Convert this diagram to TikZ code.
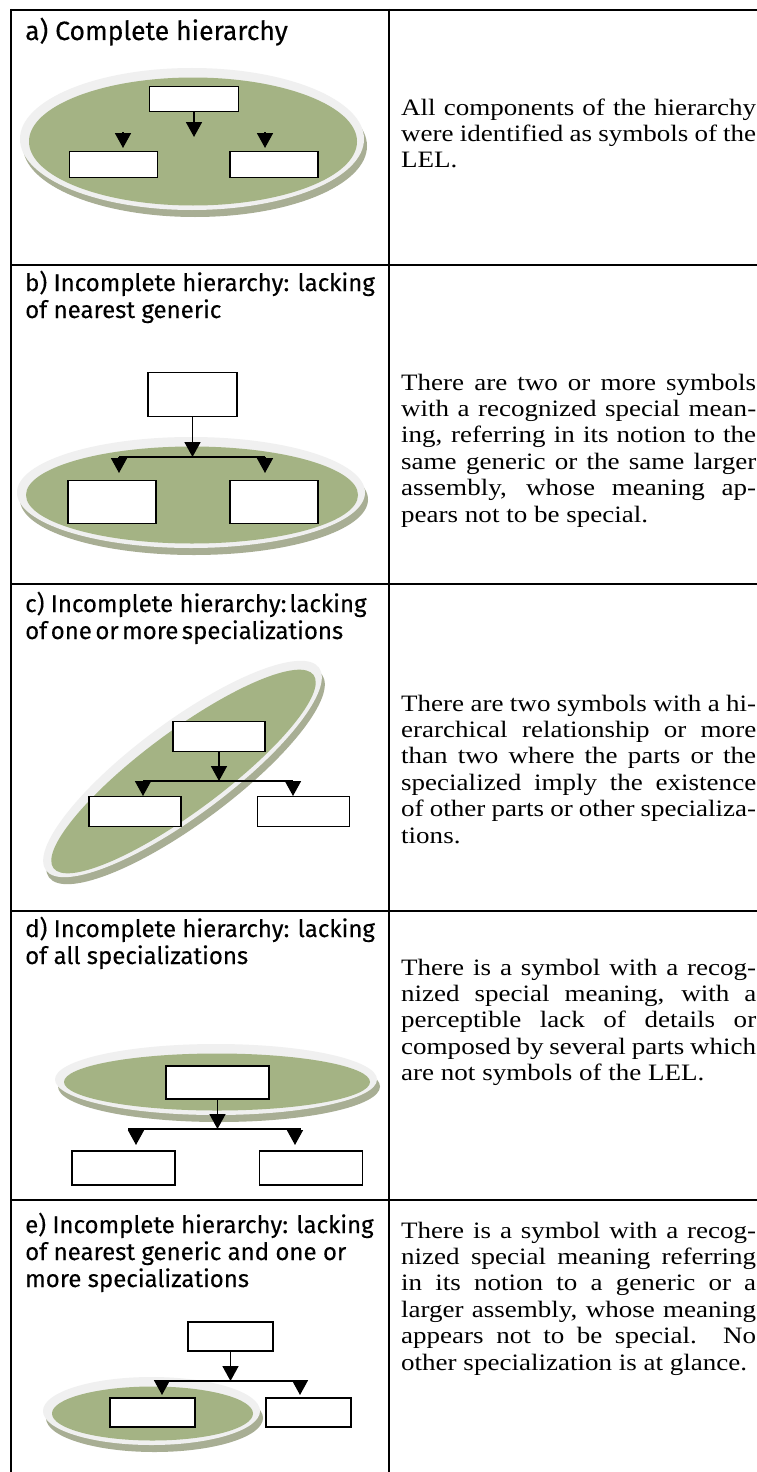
\documentclass[tikz,border=0pt]{standalone}
\usepackage{fontspec}
\usetikzlibrary{arrows.meta}
\newfontfamily\labelfam[FakeBold=0.25]{Fira Sans}
\newfontfamily\bodyfam[FakeStretch=1.15]{Liberation Serif}
\newcommand\titlefont{\labelfam\fontsize{26.5}{28}\selectfont}
\newcommand\labelfont{\labelfam\fontsize{24}{27}\selectfont}
\newcommand\bodyfont{\bodyfam\fontsize{23.5}{26.4}\selectfont}
\newcommand\jline[1]{\makebox[\linewidth][s]{#1}}
\definecolor{discgreen}{HTML}{A4B384}
\definecolor{discrim}{HTML}{F0F0F0}
\definecolor{discshadow}{HTML}{A8AE94}
% a raised disc: shadow, light rim, green face
\newcommand\disc[5]{%
  \pgfmathsetmacro\gx{#3-8}\pgfmathsetmacro\gy{#4-7}%
  \fill[discshadow] [rotate around={#5:(#1+3,#2+7)}] (#1+3,#2+7) ellipse [x radius=#3pt, y radius=#4pt];
  \fill[discrim] [rotate around={#5:(#1,#2)}] (#1,#2) ellipse [x radius=#3pt, y radius=#4pt];
  \fill[discgreen] [rotate around={#5:(#1+1,#2+2.5)}] (#1+1,#2+2.5) ellipse [x radius=\gx pt, y radius=\gy pt];
}
\tikzset{
  rule/.style={line width=2pt},
  sym/.style={draw, line width=1.8pt, fill=white, inner sep=0pt},
  link/.style={line width=1.7pt},
  arr/.style={line width=1.7pt, -{Triangle[length=15pt,width=16pt]}},
  lbl/.style={anchor=base west, inner sep=0pt, font=\labelfont},
  txt/.style={anchor=base west, inner sep=0pt, font=\bodyfont},
}
\begin{document}
\begin{tikzpicture}[x=1pt,y=-1pt]
\useasboundingbox (0,0) rectangle (757,1472);
\fill[white] (0,0) rectangle (757,1472);

% table rules
\draw[rule] (11,10) -- (757,10);
\draw[rule] (11,265) -- (757,265);
\draw[rule] (11,584) -- (757,584);
\draw[rule] (11,911) -- (757,911);
\draw[rule] (11,1200) -- (757,1200);
\draw[rule] (11,9) -- (11,1472);
\draw[rule] (389,9) -- (389,1472);

% ---------- a) complete hierarchy ----------
\disc{192}{139}{172}{71}{0}
\node[sym, minimum width=89pt, minimum height=25pt] (a0) at (194,99) {};
\node[sym, minimum width=88pt, minimum height=26pt] (a1) at (113.5,164.5) {};
\node[sym, minimum width=88pt, minimum height=26pt] (a2) at (274,164.5) {};
\coordinate (a0t) at (194,137);
\coordinate (a1h) at (123,132);
\coordinate (a1t) at (123,148);
\coordinate (a2h) at (265,132);
\coordinate (a2t) at (265,148);
\draw[arr] (a0) -- (a0t);
\draw[arr] (a1h) -- (a1t);
\draw[arr] (a2h) -- (a2t);

% ---------- b) lacking nearest generic ----------
\disc{191}{492.5}{174}{55.5}{0}
\node[sym, minimum width=89pt, minimum height=44pt] (b0) at (192.5,394.5) {};
\node[sym, minimum width=88pt, minimum height=43pt] (b1) at (112,502) {};
\node[sym, minimum width=88pt, minimum height=43pt] (b2) at (274,502) {};
\coordinate (bj) at (192.5,457);
\coordinate (bl) at (119,457);
\coordinate (br) at (265,457);
\coordinate (blt) at (119,473);
\coordinate (brt) at (265,473);
\draw[link] (bl) -- (br);
\draw[arr] (b0) -- (bj);
\draw[arr] (bl) -- (blt);
\draw[arr] (br) -- (brt);

% ---------- c) lacking one or more specializations ----------
\disc{182.5}{769}{170}{47}{36.6}
\node[sym, minimum width=92pt, minimum height=30pt] (c0) at (219,736.5) {};
\node[sym, minimum width=92pt, minimum height=30pt] (c1) at (135,811.5) {};
\node[sym, minimum width=92pt, minimum height=30pt] (c2) at (303.5,811.5) {};
\coordinate (cj) at (219,781);
\coordinate (cl) at (143,781);
\coordinate (cr) at (293,781);
\coordinate (clt) at (143,796);
\coordinate (crt) at (293,796);
\draw[link] (cl) -- (cr);
\draw[arr] (c0) -- (cj);
\draw[arr] (cl) -- (clt);
\draw[arr] (cr) -- (crt);

% ---------- d) lacking all specializations ----------
\disc{216}{1079.5}{161}{35.5}{0}
\node[sym, minimum width=103pt, minimum height=33pt] (d0) at (217.5,1082.5) {};
\node[sym, minimum width=103pt, minimum height=34pt] (d1) at (123.5,1168) {};
\node[sym, minimum width=103pt, minimum height=34pt] (d2) at (311,1168) {};
\coordinate (dj) at (217.5,1129);
\coordinate (dl) at (128,1129);
\coordinate (dr) at (301,1129);
\coordinate (dla) at (136,1129);
\coordinate (dlt) at (136,1145);
\coordinate (dra) at (295,1129);
\coordinate (drt) at (295,1145);
\draw[link] (dl) -- (dr);
\draw[arr] (d0) -- (dj);
\draw[arr] (dla) -- (dlt);
\draw[arr] (dra) -- (drt);

% ---------- e) lacking nearest generic and specializations ----------
\disc{151.5}{1411}{108.5}{34}{0}
\node[sym, minimum width=85pt, minimum height=29pt] (e0) at (230.5,1336.5) {};
\node[sym, minimum width=85pt, minimum height=29pt] (e1) at (152.5,1412.5) {};
\node[sym, minimum width=85pt, minimum height=29pt] (e2) at (308.5,1412.5) {};
\coordinate (ej) at (230.5,1381);
\coordinate (el) at (162,1381);
\coordinate (er) at (300,1381);
\coordinate (elt) at (162,1395);
\coordinate (ert) at (300,1395);
\draw[link] (el) -- (er);
\draw[arr] (e0) -- (ej);
\draw[arr] (el) -- (elt);
\draw[arr] (er) -- (ert);

% ---------- case titles ----------
\node[lbl, font=\titlefont] (la) at (25,40) {a) Complete hierarchy};
\node[lbl] (lb) at (25,291) {\parbox[t]{360pt}{\raggedright b) Incomplete hierarchy: lacking\\of nearest generic}};
\node[lbl] (lc) at (25,612) {\parbox[t]{360pt}{\raggedright c) Incomplete hierarchy:\hspace{3pt}lacking\\{\spaceskip=3.5pt of one or more specializations}}};
\node[lbl] (ld) at (25,937) {\parbox[t]{360pt}{\raggedright d) Incomplete hierarchy: lacking\\of all specializations}};
\node[lbl] (le) at (25,1233) {\parbox[t]{360pt}{\raggedright e) Incomplete hierarchy: lacking\\of nearest generic and one or\\more specializations}};

% ---------- descriptions ----------
\node[txt] (ta) at (401,115) {\parbox[t]{355pt}{%
\jline{All components of the hierarchy}\\
\jline{were identified as symbols of the}\\
LEL.}};
\node[txt] (tb) at (401,390) {\parbox[t]{355pt}{%
\jline{There are two or more symbols}\\
\jline{with a recognized special mean-}\\
\jline{ing, referring in its notion to the}\\
\jline{same generic or the same larger}\\
\jline{assembly, whose meaning ap-}\\
pears not to be special.}};
\node[txt] (tc) at (401,711) {\parbox[t]{355pt}{%
\jline{There are two symbols with a hi-}\\
\jline{erarchical relationship or more}\\
\jline{than two where the parts or the}\\
\jline{specialized imply the existence}\\
\jline{of other parts or other specializa-}\\
tions.}};
\node[txt] (td) at (401,975) {\parbox[t]{355pt}{%
\jline{There is a symbol with a recog-}\\
\jline{nized special meaning, with a}\\
\jline{perceptible lack of details or}\\
\jline{composed by several parts which}\\
are not symbols of the LEL.}};
\node[txt] (te) at (401,1238) {\parbox[t]{355pt}{%
\jline{There is a symbol with a recog-}\\
\jline{nized special meaning referring}\\
\jline{in its notion to a generic or a}\\
\jline{larger assembly, whose meaning}\\
\jline{appears not to be special. No}\\
other specialization is at glance.}};
\end{tikzpicture}
\end{document}
